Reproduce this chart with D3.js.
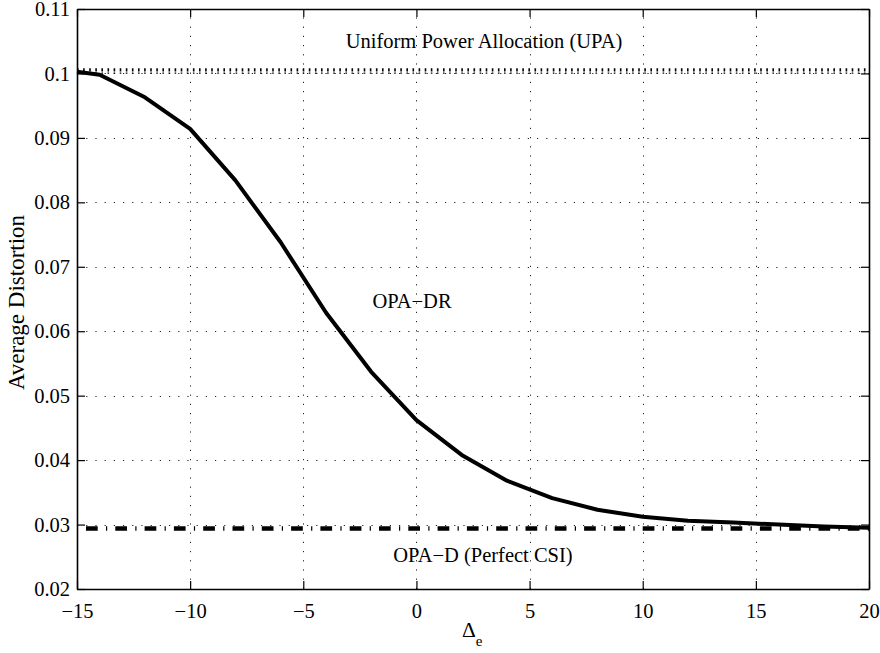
<!DOCTYPE html>
<html>
<head>
<meta charset="utf-8">
<script src="https://cdn.jsdelivr.net/npm/d3@7/dist/d3.min.js"></script>
<style>
  html, body { margin: 0; padding: 0; background: #fff; }
  svg { display: block; }
  text { font-family: "Liberation Serif", "Times New Roman", serif; fill: #000; }
</style>
</head>
<body>
<svg id="chart" width="880" height="653"></svg>
<script>
// ---- data ----
const deltaE = [-15, -14, -12, -10, -8, -6, -4, -2, 0, 2, 4, 6, 8, 10, 12, 14, 16, 18, 20];
const opaDR = [0.10025, 0.0998, 0.0963, 0.0914, 0.0834, 0.0738, 0.0629, 0.0537, 0.0462, 0.0408,
               0.0368, 0.0341, 0.0323, 0.0312, 0.0306, 0.0303, 0.0300, 0.0297, 0.0295];
const upaValue = 0.1004;
const opaDValue = 0.0294;
const xTicks = [-15, -10, -5, 0, 5, 10, 15, 20];
const xTickLabels = ["\u221215", "\u221210", "\u22125", "0", "5", "10", "15", "20"];
const yTicks = [0.02, 0.03, 0.04, 0.05, 0.06, 0.07, 0.08, 0.09, 0.10, 0.11];
const yTickLabels = ["0.02", "0.03", "0.04", "0.05", "0.06", "0.07", "0.08", "0.09", "0.1", "0.11"];

// ---- layout ----
const L = 77, R = 869, T = 9, B = 589;
const x = d3.scaleLinear().domain([-15, 20]).range([L, R]);
const y = d3.scaleLinear().domain([0.02, 0.11]).range([B, T]);
const svg = d3.select("#chart");

// grid
const grid = svg.append("g").attr("stroke", "#222").attr("stroke-width", 1)
  .attr("stroke-dasharray", "1.2,8").attr("fill", "none");
grid.selectAll("line.vx").data(xTicks.slice(1, -1)).join("line")
  .attr("x1", d => Math.round(x(d)) + 0.5).attr("x2", d => Math.round(x(d)) + 0.5)
  .attr("y1", B).attr("y2", T);
grid.selectAll("line.hy").data(yTicks.slice(1, -1)).join("line")
  .attr("x1", L).attr("x2", R)
  .attr("y1", d => Math.round(y(d)) + 0.5).attr("y2", d => Math.round(y(d)) + 0.5);

// axes: bottom, left, top, right with inward ticks
const tl = 8;
const gB = svg.append("g").attr("transform", `translate(0,${B})`)
  .call(d3.axisBottom(x).tickValues(xTicks).tickSizeInner(-tl).tickSizeOuter(0).tickPadding(14)
    .tickFormat((d, i) => xTickLabels[i]));
const gT = svg.append("g").attr("transform", `translate(0,${T})`)
  .call(d3.axisTop(x).tickValues(xTicks).tickSizeInner(-tl).tickSizeOuter(0).tickFormat(""));
const gL = svg.append("g").attr("transform", `translate(${L},0)`)
  .call(d3.axisLeft(y).tickValues(yTicks).tickSizeInner(-tl).tickSizeOuter(0).tickPadding(7)
    .tickFormat((d, i) => yTickLabels[i]));
const gR = svg.append("g").attr("transform", `translate(${R},0)`)
  .call(d3.axisRight(y).tickValues(yTicks).tickSizeInner(-tl).tickSizeOuter(0).tickFormat(""));
[gB, gT, gL, gR].forEach(g => {
  g.select(".domain").attr("stroke", "#000").attr("stroke-width", 1.6);
  g.selectAll(".tick line").attr("stroke", "#000").attr("stroke-width", 1.2);
  g.selectAll(".tick text").style("font-size", "20.5px").style("font-family", '"Liberation Serif", serif').attr("fill", "#000");
});
gB.selectAll(".tick text").attr("dy", "0.71em");

// UPA dotted line
svg.append("line").attr("x1", L).attr("x2", R)
  .attr("y1", y(upaValue) - 1).attr("y2", y(upaValue) - 1)
  .attr("stroke", "#000").attr("stroke-width", 3.2).attr("stroke-dasharray", "1.6,4.5");
svg.append("line").attr("x1", L).attr("x2", R)
  .attr("y1", y(upaValue) + 2.2).attr("y2", y(upaValue) + 2.2)
  .attr("stroke", "#000").attr("stroke-width", 1.2).attr("stroke-dasharray", "1.6,4.5");

// OPA-D dash-dot line
svg.append("line").attr("x1", L).attr("x2", R)
  .attr("y1", y(opaDValue)).attr("y2", y(opaDValue))
  .attr("stroke", "#000").attr("stroke-width", 4.5)
  .attr("stroke-dasharray", "11.7,8.3,1.2,8.1").attr("stroke-dashoffset", 20.3);

// OPA-DR curve
const line = d3.line().x(d => x(d[0])).y(d => y(d[1]));
svg.append("path").datum(deltaE.map((d, i) => [d, opaDR[i]]))
  .attr("d", line).attr("fill", "none").attr("stroke", "#000")
  .attr("stroke-width", 4).attr("stroke-linejoin", "round");

// labels
svg.append("text").attr("x", 484).attr("y", 48).attr("text-anchor", "middle")
  .style("font-size", "20.5px").text("Uniform Power Allocation (UPA)");
svg.append("text").attr("x", 412).attr("y", 308).attr("text-anchor", "middle")
  .style("font-size", "20.5px").text("OPA\u2212DR");
svg.append("text").attr("x", 483).attr("y", 561.5).attr("text-anchor", "middle")
  .style("font-size", "20.5px").text("OPA\u2212D (Perfect CSI)");

// axis titles
const xt = svg.append("text").attr("x", 462).attr("y", 636.5).style("font-size", "21.5px");
xt.append("tspan").text("\u0394");
xt.append("tspan").attr("dy", 9).style("font-size", "15px").text("e");

svg.append("text").attr("transform", "translate(23.5,302.5) rotate(-90)")
  .attr("text-anchor", "middle").style("font-size", "23px").text("Average Distortion");
</script>
</body>
</html>
